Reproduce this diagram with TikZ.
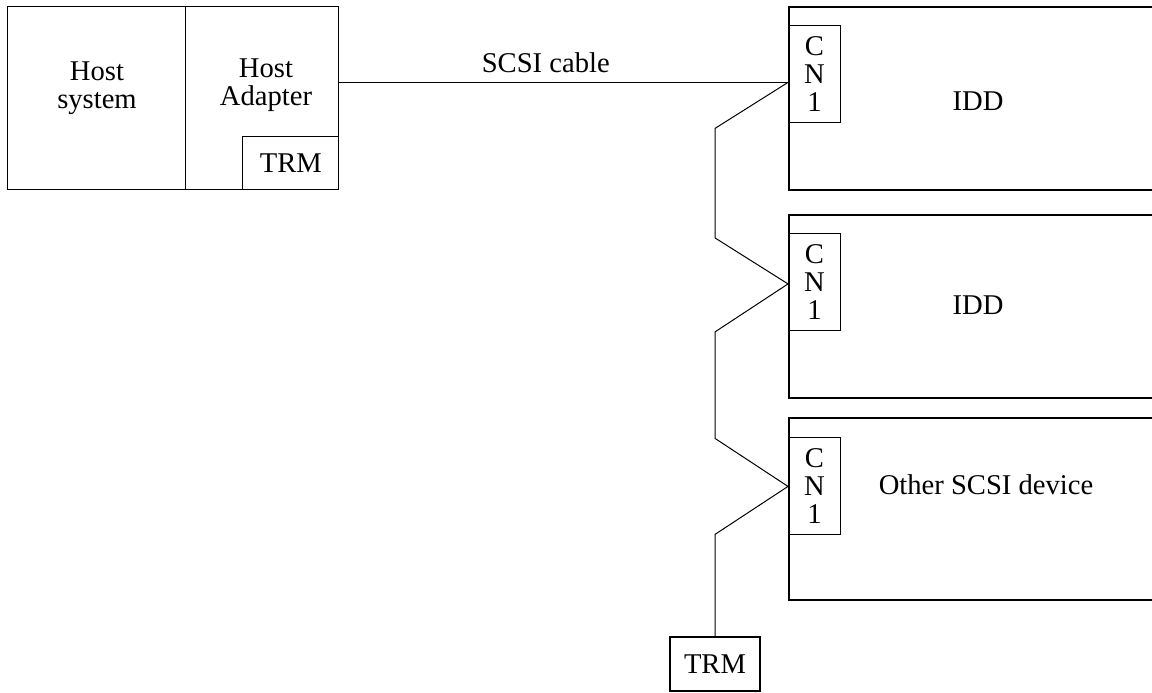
\documentclass[tikz,border=0pt]{standalone}
\usepackage{fontspec}
\setmainfont{Liberation Serif}
\usetikzlibrary{positioning,calc}
\def\cablejog{73}

\begin{document}
\begin{tikzpicture}[x=0.5pt,y=-0.5pt,
    font=\fontsize{14.3}{14}\selectfont,
    box/.style={draw,line width=0.8pt,inner sep=0pt,anchor=north west},
    cnbox/.style={draw,line width=0.4pt,inner sep=0pt,anchor=north west,
      minimum width=26pt,minimum height=48.5pt,align=center},
    cable/.style={line width=0.5pt}]

\useasboundingbox (0,0) rectangle (1152,692);
\clip (0,0) rectangle (1152,692);

% host side
\node[box,line width=0.7pt,minimum width=165.5pt,minimum height=91.5pt] (HS) at (7,6) {};
\draw[line width=0.5pt] (185,6) coordinate (HSdiv) -- (HSdiv |- HS.south);
\node[align=center] (HSL) at (97,88) {Host\\system};
\node[align=center] (HAL) at (266,85) {Host\\Adapter};
\node[draw,line width=0.5pt,anchor=south east,minimum width=48pt,minimum height=26.5pt,inner sep=0pt]
  (TRMA) at (HS.south east) {TRM};

% devices
\node[box,minimum width=200pt,minimum height=91.5pt] (DA) at (788,6) {};
\node[box,minimum width=200pt,minimum height=91.5pt] (DB) at (788,214) {};
\node[box,minimum width=200pt,minimum height=91pt] (DC) at (788,417) {};

\node[cnbox] (CA) at ($ (DA.north west) + (0,19) $) {C\\N\\1};
\node[cnbox] (CB) at ($ (DB.north west) + (0,19) $) {C\\N\\1};
\node[cnbox] (CC) at ($ (DC.north west) + (0,20) $) {C\\N\\1};

\node (DAL) at (978,101) {IDD};
\node (DBL) at (978,305) {IDD};
\node (DCL) at (986,485) {Other SCSI device};

\coordinate (TapA) at ($ (CA.west) + (0,8.5) $);
\coordinate (TapB) at ($ (CB.west) + (0,2) $);
\coordinate (TapC) at ($ (CC.west) + (0,0.5) $);

\node[draw,line width=0.7pt,minimum width=45pt,minimum height=27pt,inner sep=0pt] (TRMB) at (715,664) {TRM};

% cable
\draw[cable] (HS.east |- TapA) -- node[above=1pt,pos=0.46] (SCL) {SCSI cable} (TapA);
\draw[cable] (TapA)
  -- ($ (TapA) + (-\cablejog,46) $)
  -- ($ (TapB) + (-\cablejog,-46) $)
  -- (TapB)
  -- ($ (TapB) + (-\cablejog,48) $)
  -- ($ (TapC) + (-\cablejog,-48) $)
  -- (TapC)
  -- ($ (TapC) + (-\cablejog,48) $)
  -- (TRMB.north)
;

\end{tikzpicture}
\end{document}
